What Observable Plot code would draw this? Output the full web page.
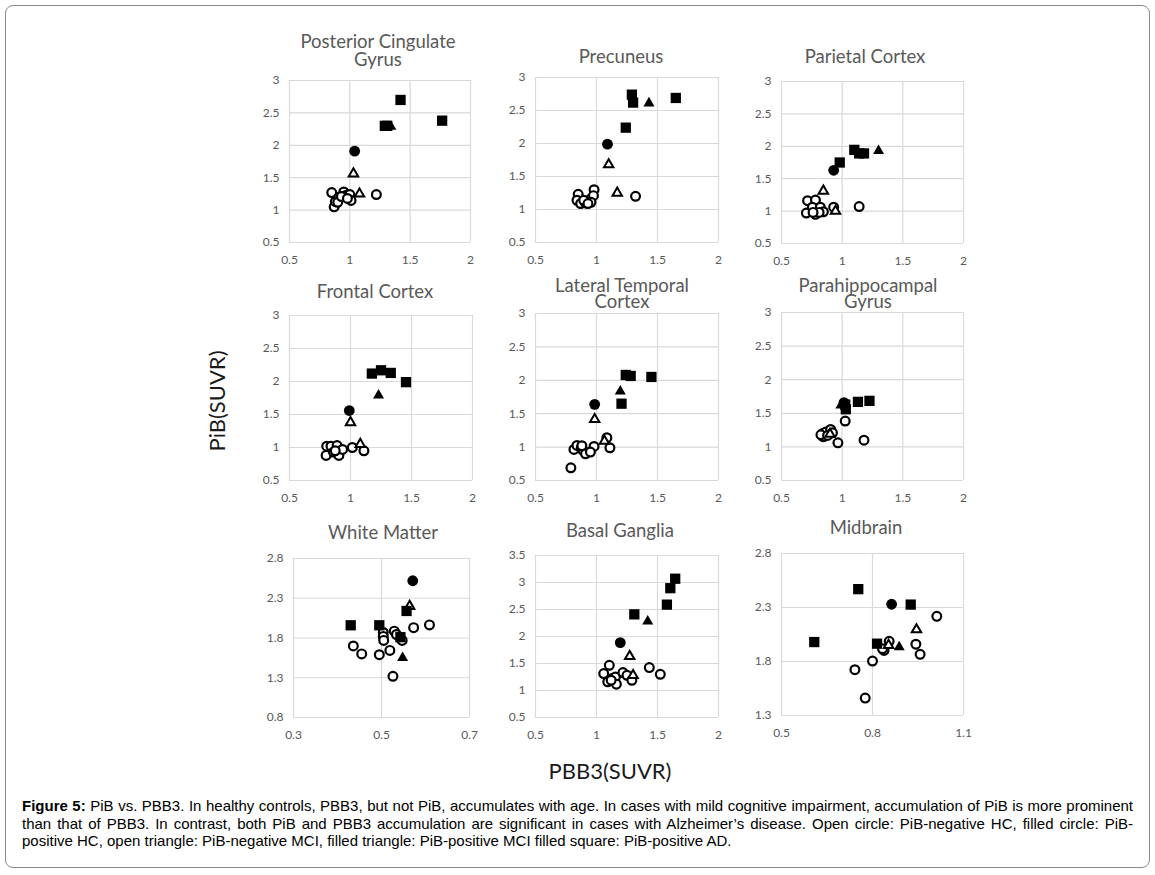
<!DOCTYPE html>
<html>
<head>
<meta charset="utf-8">
<script src="https://cdn.jsdelivr.net/npm/d3@7"></script>
<script src="https://cdn.jsdelivr.net/npm/@observablehq/plot@0.6"></script>
<style>
html,body{margin:0;padding:0;background:#fff;}
#fig{position:relative;width:1155px;height:875px;overflow:hidden;font-family:Lato,"Open Sans",sans-serif;background:#fff;}
.border{position:absolute;left:5px;top:5px;width:1145px;height:863px;border:1px solid #8a8a8a;border-radius:8px;box-sizing:border-box;}
.title{position:absolute;width:300px;text-align:center;color:#595959;font-size:18.5px;white-space:pre;}
.panel{position:absolute;}
.axlab{position:absolute;font-size:22px;color:#1a1a1a;white-space:nowrap;}
.caption{position:absolute;left:22px;width:1111px;top:797px;font-family:"Liberation Sans",Arial,sans-serif;font-size:15px;color:#000;}
.caption div{text-align:justify;text-align-last:justify;line-height:17.5px;height:17.5px;white-space:normal;}
.caption div.last{text-align:left;text-align-last:left;}
</style>
</head>
<body>
<div id="fig">
  <div class="border"></div>
</div>
<script>
// ---------- tick values ----------
const ticksPBB3 = [0.5, 1, 1.5, 2];
const ticksPiB = [0.5, 1, 1.5, 2, 2.5, 3];
const ticksWmX = [0.3, 0.5, 0.7];
const ticksWmY = [0.8, 1.3, 1.8, 2.3, 2.8];
const ticksBgY = [0.5, 1, 1.5, 2, 2.5, 3, 3.5];
const ticksMbX = [0.5, 0.8, 1.1];
const ticksMbY = [1.3, 1.8, 2.3, 2.8];

// ---------- panel titles ----------
const titles = ["Posterior Cingulate\nGyrus", "Precuneus", "Parietal Cortex",
  "Frontal Cortex", "Lateral Temporal\nCortex", "Parahippocampal\nGyrus",
  "White Matter", "Basal Ganglia", "Midbrain"];

// groups: HC- open circle, HC+ filled circle, MCI- open triangle, MCI+ filled triangle, AD filled square
// ---------- Posterior Cingulate Gyrus ----------
const pcgGroup = ["HC-","HC-","HC-","HC-","HC-","HC-","HC-","HC-","HC-","HC-","HC-","HC-","HC+","MCI-","MCI-","MCI+","AD","AD","AD","AD"];
const pcgPBB3 = [1.22,0.85,0.87,0.88,0.91,0.95,0.97,1.00,1.01,0.90,0.93,0.98, 1.04, 1.03,1.08, 1.34, 1.42,1.765,1.29,1.31];
const pcgPiB  = [1.24,1.27,1.05,1.13,1.20,1.28,1.23,1.24,1.15,1.12,1.21,1.18, 1.91, 1.56,1.25, 2.29, 2.70,2.38,2.30,2.30];

// ---------- Precuneus ----------
const prcGroup = ["HC-","HC-","HC-","HC-","HC-","HC-","HC-","HC-","HC-","HC-","HC-","HC+","MCI-","MCI-","MCI+","AD","AD","AD","AD"];
const prcPBB3 = [1.32,0.85,0.84,0.87,0.91,0.945,0.98,0.975,0.955,0.895,0.93, 1.09, 1.10,1.17, 1.43, 1.29,1.30,1.24,1.65];
const prcPiB  = [1.20,1.23,1.14,1.09,1.10,1.15,1.30,1.21,1.11,1.14,1.09, 1.99, 1.68,1.25, 2.61, 2.74,2.62,2.24,2.69];

// ---------- Parietal Cortex ----------
const parGroup = ["HC-","HC-","HC-","HC-","HC-","HC-","HC-","HC-","HC-","HC-","HC-","HC+","MCI-","MCI-","MCI+","AD","AD","AD","AD"];
const parPBB3 = [1.14,0.93,0.715,0.78,0.705,0.755,0.78,0.82,0.845,0.81,0.76, 0.93, 0.845,0.945, 1.30, 1.10,1.14,1.18,0.98];
const parPiB  = [1.07,1.06,1.16,1.17,0.97,1.06,0.95,1.06,0.99,0.98,0.98, 1.63, 1.31,1.00, 1.93, 1.945,1.89,1.89,1.75];

// ---------- Frontal Cortex ----------
const froGroup = ["HC-","HC-","HC-","HC-","HC-","HC-","HC-","HC-","HC-","HC-","HC+","MCI-","MCI-","MCI+","AD","AD","AD","AD"];
const froPBB3 = [1.015,1.11,0.805,0.80,0.84,0.89,0.86,0.905,0.935,0.875, 0.99, 1.00,1.08, 1.23, 1.175,1.25,1.33,1.455];
const froPiB  = [1.00,0.95,1.02,0.88,1.02,1.03,0.93,0.88,0.97,0.95, 1.56, 1.38,1.05, 1.79, 2.12,2.17,2.13,1.99];

// ---------- Lateral Temporal Cortex ----------
const ltcGroup = ["HC-","HC-","HC-","HC-","HC-","HC-","HC-","HC-","HC-","HC-","HC-","HC+","MCI-","MCI-","MCI+","AD","AD","AD","AD"];
const ltcPBB3 = [0.79,1.085,1.11,0.98,0.815,0.84,0.875,0.89,0.91,0.95,0.88, 0.985, 0.985,1.065, 1.195, 1.24,1.28,1.45,1.205];
const ltcPiB  = [0.69,1.14,0.99,1.01,0.965,1.025,0.99,0.95,0.90,0.925,1.02, 1.64, 1.415,1.09, 1.835, 2.08,2.065,2.05,1.65];

// ---------- Parahippocampal Gyrus ----------
const phgGroup = ["HC-","HC-","HC-","HC-","HC-","HC-","HC-","HC-","HC-","HC-","MCI-","MCI+","HC+","AD","AD","AD","AD"];
const phgPBB3 = [1.025,1.18,0.965,0.84,0.865,0.905,0.92,0.845,0.825,0.88, 0.90, 0.99, 1.015, 1.13,1.225,1.03,1.025];
const phgPiB  = [1.385,1.10,1.06,1.20,1.22,1.26,1.21,1.15,1.18,1.17, 1.19, 1.62, 1.66, 1.67,1.685,1.56,1.63];

// ---------- White Matter ----------
const wmGroup = ["HC-","HC-","HC-","HC-","HC-","HC-","HC-","HC-","HC-","HC-","HC-","HC-","HC-","HC+","MCI-","MCI+","AD","AD","AD","AD"];
const wmPBB3 = [0.573,0.609,0.504,0.504,0.505,0.529,0.534,0.547,0.436,0.455,0.495,0.519,0.526, 0.571, 0.564, 0.548, 0.557,0.430,0.495,0.543];
const wmPiB  = [1.93,1.965,1.87,1.82,1.77,1.886,1.844,1.77,1.70,1.60,1.59,1.644,1.318, 2.52, 2.20, 1.55, 2.14,1.96,1.96,1.81];

// ---------- Basal Ganglia ----------
const bgGroup = ["HC-","HC-","HC-","HC-","HC-","HC-","HC-","HC-","HC-","HC-","HC-","HC-","HC+","MCI-","MCI-","MCI+","AD","AD","AD","AD"];
const bgPBB3 = [1.105,1.433,1.523,1.059,1.092,1.127,1.155,1.163,1.217,1.25,1.29,1.12, 1.195, 1.272,1.30, 1.42, 1.645,1.605,1.577,1.31];
const bgPiB  = [1.467,1.424,1.30,1.313,1.16,1.22,1.25,1.118,1.332,1.282,1.19,1.19, 1.886, 1.633,1.28, 2.28, 3.07,2.895,2.59,2.41];

// ---------- Midbrain ----------
const mbGroup = ["HC-","HC-","HC-","HC-","HC-","HC-","HC-","HC-","HC-","HC+","MCI-","MCI-","MCI+","AD","AD","AD","AD"];
const mbPBB3 = [1.012,0.943,0.957,0.855,0.838,0.833,0.80,0.742,0.776, 0.863, 0.945,0.853, 0.888, 0.753,0.926,0.608,0.815];
const mbPiB  = [2.218,1.96,1.866,1.987,1.903,1.918,1.804,1.724,1.461, 2.33, 2.095,1.95, 1.934, 2.47,2.327,1.98,1.965];

// ---------- layout (plot-area rectangles, title positions) ----------
const panels = [
  {g:pcgGroup, x:pcgPBB3, y:pcgPiB, xt:ticksPBB3, yt:ticksPiB, L:289, T:80,  W:181, H:162, tx:378, ty:42,  lh:18},
  {g:prcGroup, x:prcPBB3, y:prcPiB, xt:ticksPBB3, yt:ticksPiB, L:535, T:77,  W:183, H:165, tx:621, ty:57,  lh:16},
  {g:parGroup, x:parPBB3, y:parPiB, xt:ticksPBB3, yt:ticksPiB, L:781, T:81,  W:182, H:162, tx:865, ty:57,  lh:16},
  {g:froGroup, x:froPBB3, y:froPiB, xt:ticksPBB3, yt:ticksPiB, L:289, T:315, W:183, H:165, tx:375, ty:292, lh:16},
  {g:ltcGroup, x:ltcPBB3, y:ltcPiB, xt:ticksPBB3, yt:ticksPiB, L:535, T:313, W:183, H:167, tx:622, ty:287, lh:15.5},
  {g:phgGroup, x:phgPBB3, y:phgPiB, xt:ticksPBB3, yt:ticksPiB, L:781, T:312, W:182, H:168, tx:868, ty:287, lh:15.5},
  {g:wmGroup,  x:wmPBB3,  y:wmPiB,  xt:ticksWmX,  yt:ticksWmY,  L:293, T:558, W:176, H:159, tx:383, ty:533, lh:16},
  {g:bgGroup,  x:bgPBB3,  y:bgPiB,  xt:ticksPBB3, yt:ticksBgY,  L:535, T:555, W:183, H:162, tx:620, ty:531, lh:16},
  {g:mbGroup,  x:mbPBB3,  y:mbPiB,  xt:ticksMbX,  yt:ticksMbY,  L:781, T:553, W:182, H:162, tx:866, ty:528, lh:16}
];

const groupStyle = [
  ["HC-",  {symbol:"circle",   r:4.4, fill:"white", stroke:"black", strokeWidth:2.2}],
  ["MCI-", {symbol:"triangle", r:3.5, fill:"white", stroke:"black", strokeWidth:2}],
  ["HC+",  {symbol:"circle",   r:5.4, fill:"black"}],
  ["MCI+", {symbol:"triangle", r:4.1, fill:"black"}],
  ["AD",   {symbol:"square",   r:5.8, fill:"black"}]
];

const fig = document.getElementById("fig");
const mL = 40, mR = 14, mT = 10, mB = 30;
const fmt = d => String(d);

panels.forEach((p, i) => {
  const rows = p.x.map((v, k) => ({pbb3: v, pib: p.y[k], group: p.g[k]}));
  const dots = groupStyle.map(([g, s]) =>
    Plot.dot(rows.filter(d => d.group === g), {x: "pbb3", y: "pib", ...s}));
  const chart = Plot.plot({
    width: p.W + mL + mR,
    height: p.H + mT + mB,
    marginLeft: mL, marginRight: mR, marginTop: mT, marginBottom: mB,
    x: {domain: [p.xt[0], p.xt[p.xt.length - 1]]},
    y: {domain: [p.yt[0], p.yt[p.yt.length - 1]]},
    style: {fontFamily: "Lato, 'Open Sans', sans-serif", fontSize: "12px", color: "#595959", background: "transparent", overflow: "visible"},
    marks: [
      Plot.gridX(p.xt, {stroke: "#d9d9d9", strokeOpacity: 1, strokeWidth: 1.2}),
      Plot.gridY(p.yt, {stroke: "#d9d9d9", strokeOpacity: 1, strokeWidth: 1.2}),
      Plot.axisX(p.xt, {tickSize: 0, tickPadding: 13, tickFormat: fmt, label: null, fill: "#595959"}),
      Plot.axisY(p.yt, {tickSize: 0, tickPadding: 10, tickFormat: fmt, label: null, fill: "#595959"}),
      ...dots
    ]
  });
  const wrap = document.createElement("div");
  wrap.className = "panel";
  wrap.style.left = (p.L - mL) + "px";
  wrap.style.top = (p.T - mT) + "px";
  wrap.appendChild(chart);
  fig.appendChild(wrap);

  const t = document.createElement("div");
  t.className = "title";
  t.textContent = titles[i];
  t.style.left = (p.tx - 150) + "px";
  t.style.top = (p.ty - p.lh / 2 - 1) + "px";
  t.style.lineHeight = p.lh + "px";
  fig.appendChild(t);
});

// axis labels
const yl = document.createElement("div");
yl.className = "axlab";
yl.textContent = "PiB(SUVR)";
yl.style.left = "216px"; yl.style.top = "401px";
yl.style.transform = "translate(-50%,-50%) rotate(-90deg)";
fig.appendChild(yl);

const xl = document.createElement("div");
xl.className = "axlab";
xl.textContent = "PBB3(SUVR)";
xl.style.left = "610px"; xl.style.top = "770px";
xl.style.transform = "translate(-50%,-50%)";
fig.appendChild(xl);

// caption
const captionLines = [
  "<b>Figure 5:</b> PiB vs. PBB3. In healthy controls, PBB3, but not PiB, accumulates with age. In cases with mild cognitive impairment, accumulation of PiB is more prominent",
  "than that of PBB3. In contrast, both PiB and PBB3 accumulation are significant in cases with Alzheimer’s disease. Open circle: PiB-negative HC, filled circle: PiB-",
  "positive HC, open triangle: PiB-negative MCI, filled triangle: PiB-positive MCI filled square: PiB-positive AD."
];
const cap = document.createElement("div");
cap.className = "caption";
cap.innerHTML = captionLines.map((l, k) => `<div class="${k === captionLines.length - 1 ? "last" : ""}">${l}</div>`).join("");
fig.appendChild(cap);
</script>
</body>
</html>
